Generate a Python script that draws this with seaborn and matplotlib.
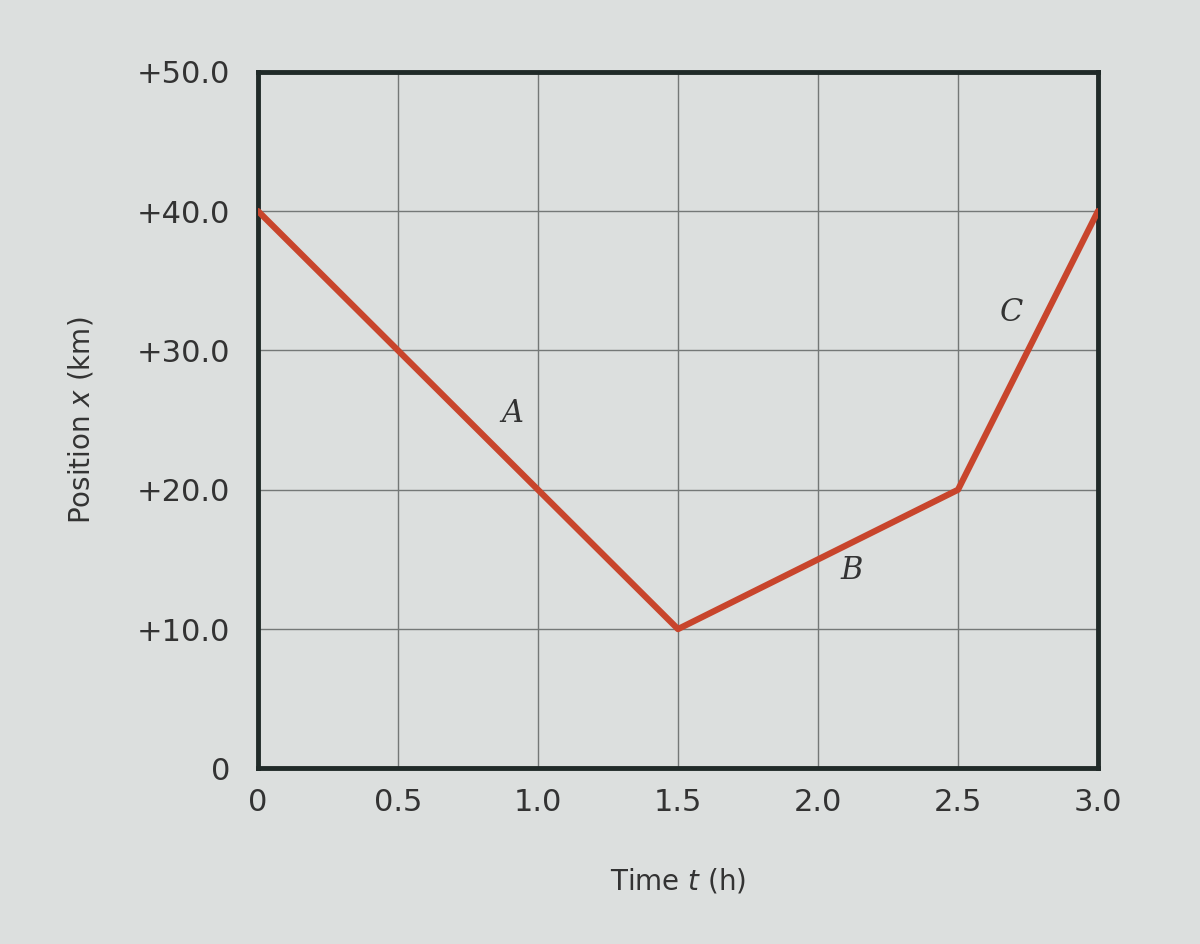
import matplotlib
matplotlib.use("Agg")
import matplotlib.pyplot as plt
import seaborn as sns
import pandas as pd

time_h = [0.0, 1.5, 2.5, 3.0]
position_km = [40.0, 10.0, 20.0, 40.0]
x_ticks = [0.0, 0.5, 1.0, 1.5, 2.0, 2.5, 3.0]
x_tick_labels = ["0", "0.5", "1.0", "1.5", "2.0", "2.5", "3.0"]
y_ticks = [0, 10, 20, 30, 40, 50]
y_tick_labels = ["0", "+10.0", "+20.0", "+30.0", "+40.0", "+50.0"]
segment_labels = ["A", "B", "C"]
segment_label_pos = [(0.91, 25.5), (2.12, 14.2), (2.69, 32.7)]

sns.set_theme(style="white")
plt.rcParams['font.family'] = ['DejaVu Sans']

bg = "#dcdfde"
txt = "#333333"
fig = plt.figure(figsize=(12, 9.44), dpi=100, facecolor=bg)
ax = fig.add_axes([0.215, 0.186, 0.700, 0.738])
ax.set_facecolor(bg)

df = pd.DataFrame({"t": time_h, "x": position_km})
sns.lineplot(data=df, x="t", y="x", ax=ax, color="#c8452c", linewidth=4.5, zorder=3)

ax.set_xlim(0, 3.0)
ax.set_ylim(0, 50)
ax.set_xticks(x_ticks)
ax.set_xticklabels(x_tick_labels)
ax.set_yticks(y_ticks)
ax.set_yticklabels(y_tick_labels)
ax.grid(True, color="#747877", linewidth=1.0)
ax.tick_params(axis="both", length=0, labelsize=22, colors=txt)
ax.tick_params(axis="y", pad=20)
ax.tick_params(axis="x", pad=14)
for s in ax.spines.values():
    s.set_color("#202a28")
    s.set_linewidth(3.5)

ax.set_xlabel(r"Time $t$ (h)", fontsize=20, color=txt, labelpad=36)
ax.set_ylabel(r"Position $x$ (km)", fontsize=20, color=txt, labelpad=30)

for lab, (px, py) in zip(segment_labels, segment_label_pos):
    ax.text(px, py, lab, fontsize=22, fontstyle="italic", family="DejaVu Serif",
            color=txt, ha="center", va="center", zorder=4)

fig.savefig("out.png", dpi=100, facecolor=bg)
